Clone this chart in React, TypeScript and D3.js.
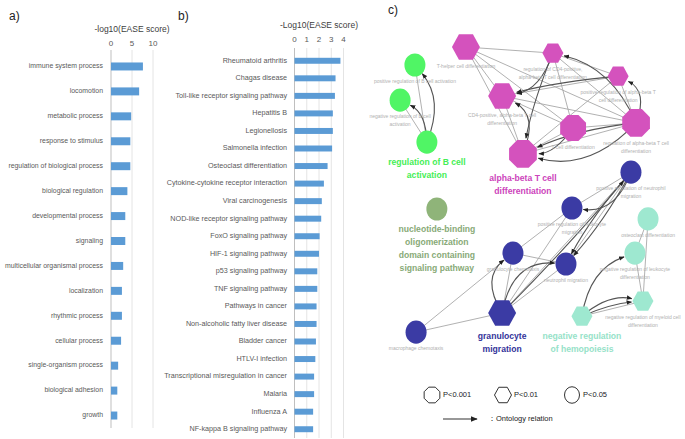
import React from "react";
import * as d3 from "d3";

const W = 685;
const H = 439;

// ---- panel a: GO biological process
const goTerms = [
  "immune system process", "locomotion", "metabolic process", "response to stimulus",
  "regulation of biological process", "biological regulation", "developmental process",
  "signaling", "multicellular organismal process", "localization", "rhythmic process",
  "cellular process", "single-organism process", "biological adhesion", "growth",
];
const goScores = [7.6, 6.7, 4.8, 4.6, 4.6, 3.9, 3.4, 3.4, 2.9, 2.6, 2.6, 2.4, 1.7, 1.5, 1.5];
const goTicks = [0, 5, 10];

// ---- panel b: KEGG pathways
const keggTerms = [
  "Rheumatoid arthritis", "Chagas disease", "Toll-like receptor signaling pathway", "Hepatitis B",
  "Legionellosis", "Salmonella infection", "Osteoclast differentiation",
  "Cytokine-cytokine receptor interaction", "Viral carcinogenesis", "NOD-like receptor signaling pathway",
  "FoxO signaling pathway", "HIF-1 signaling pathway", "p53 signaling pathway", "TNF signaling pathway",
  "Pathways in cancer", "Non-alcoholic fatty liver disease", "Bladder cancer", "HTLV-I infection",
  "Transcriptional misregulation in cancer", "Malaria", "Influenza A", "NF-kappa B signaling pathway",
];
const keggScores = [3.75, 3.35, 3.3, 3.13, 3.13, 3.07, 2.7, 2.4, 2.23, 2.18, 2.05, 2.0, 1.86, 1.86,
  1.8, 1.8, 1.75, 1.7, 1.6, 1.6, 1.52, 1.52];
const keggTicks = [0, 1, 2, 3, 4];

// ---- panel c: ClueGO network
const groupColor: Record<string, string> = {
  ab: "#d452bd", bcell: "#50f565", nod: "#8fb479", gran: "#3b3ba4", hemo: "#9ee8d0",
};
const groupText: Record<string, string> = {
  ab: "#cc44bb", bcell: "#44ee55", nod: "#88aa77", gran: "#33339a", hemo: "#96e2c8",
};

// significance: 3 = P<0.001, 2 = P<0.01, 1 = P<0.05
const nodeIds = ["th", "cd4reg", "posab", "cd4", "tcell", "abreg", "ab",
  "posB", "negB", "regB", "nod",
  "posNeut", "posLeuk", "granChemo", "neutMig", "granMig", "macro",
  "osteo", "negLeuk", "negMyel", "negHemo"];
const nodeGroup = ["ab", "ab", "ab", "ab", "ab", "ab", "ab",
  "bcell", "bcell", "bcell", "nod",
  "gran", "gran", "gran", "gran", "gran", "gran",
  "hemo", "hemo", "hemo", "hemo"];
const nodeSig = [2, 2, 2, 2, 3, 3, 3, 1, 1, 1, 1, 1, 1, 1, 1, 2, 1, 1, 1, 2, 2];
const nodeLabels = [
  ["T-helper cell differentiation"],
  ["regulation of CD4-positive,", "alpha-beta T cell differentiation"],
  ["positive regulation of alpha-beta T", "cell differentiation"],
  ["CD4-positive, alpha-beta T cell", "differentiation"],
  ["T cell differentiation"],
  ["regulation of alpha-beta T cell", "differentiation"],
  ["alpha-beta T cell", "differentiation"],
  ["positive regulation of B cell activation"],
  ["negative regulation of B cell", "activation"],
  ["regulation of B cell", "activation"],
  ["nucleotide-binding", "oligomerization", "domain containing", "signaling pathway"],
  ["positive regulation of neutrophil", "migration"],
  ["positive regulation of leukocyte", "migration"],
  ["granulocyte chemotaxis"],
  ["neutrophil migration"],
  ["granulocyte", "migration"],
  ["macrophage chemotaxis"],
  ["osteoclast differentiation"],
  ["negative regulation of leukocyte", "differentiation"],
  ["negative regulation of myeloid cell", "differentiation"],
  ["negative regulation", "of hemopoiesis"],
];
const leadingTerms = ["ab", "regB", "nod", "granMig", "negHemo"];
// layout coordinates (0-100 layout space)
const nodeX = [28.4, 58.9, 81.8, 41.1, 66.0, 88.1, 48.4, 10.5, 5.3, 14.7, 18.2,
  86.3, 65.6, 44.9, 63.5, 41.1, 10.9, 92.3, 87.7, 90.5, 69.1];
const nodeY = [2.2, 4.1, 11.3, 17.5, 27.5, 25.9, 35.6, 7.8, 18.8, 31.9, 52.8,
  41.3, 52.5, 66.6, 70.0, 85.3, 91.3, 55.9, 66.6, 81.6, 86.3];

const links: [string, string][] = [
  ["th", "cd4reg"], ["th", "cd4"], ["th", "tcell"], ["th", "abreg"], ["th", "ab"],
  ["cd4reg", "posab"], ["cd4reg", "tcell"], ["cd4reg", "abreg"], ["posab", "abreg"],
  ["cd4", "abreg"], ["cd4", "ab"], ["cd4", "tcell"], ["cd4", "posab"], ["tcell", "abreg"],
  ["tcell", "ab"], ["abreg", "ab"], ["posab", "ab"],
  ["regB", "posB"], ["regB", "negB"],
  ["granMig", "granChemo"], ["granMig", "neutMig"], ["granMig", "posLeuk"], ["granMig", "posNeut"],
  ["macro", "granMig"], ["macro", "granChemo"], ["granChemo", "neutMig"], ["granChemo", "posLeuk"],
  ["posLeuk", "posNeut"], ["neutMig", "posNeut"],
  ["osteo", "negLeuk"], ["osteo", "negMyel"], ["negLeuk", "negMyel"], ["negHemo", "negMyel"],
];
// ontology relations: source -> target, bend
const relations: [string, string, number][] = [
  ["cd4reg", "cd4", -0.3], ["posab", "cd4", 0.04], ["abreg", "posab", 0.45], ["abreg", "cd4reg", 0.25],
  ["abreg", "ab", -0.3], ["abreg", "ab", 0.08], ["tcell", "ab", -0.25], ["ab", "cd4", 0.45], ["cd4reg", "ab", 0.05],
  ["regB", "posB", 0.3], ["regB", "negB", 0.3],
  ["posNeut", "posLeuk", -0.4], ["posNeut", "neutMig", 0.06], ["posNeut", "neutMig", -0.06],
  ["granMig", "posNeut", 0.02], ["granMig", "granChemo", -0.45], ["granMig", "neutMig", -0.45],
  ["negHemo", "negLeuk", -0.3], ["negHemo", "negMyel", -0.25], ["negHemo", "negMyel", -0.08],
];

const legendSig = [3, 2, 1];
const legendText = ["P<0.001", "P<0.01", "P<0.05"];

const barFont = "'Liberation Sans', Arial, sans-serif";
const barBlue = "#5b9bd5";

function polygon(cx: number, cy: number, r: number, sides: number, offset: number, sy = 1) {
  const pts: string[] = [];
  for (let i = 0; i < sides; i++) {
    const a = offset + (i * 2 * Math.PI) / sides;
    pts.push(`${cx + r * Math.cos(a)},${cy + r * sy * Math.sin(a)}`);
  }
  return pts.join(" ");
}

function NodeShape({ cx, cy, r, sig, fill, stroke }: any) {
  if (sig === 3) return <polygon points={polygon(cx, cy, r, 8, Math.PI / 8)} fill={fill} stroke={stroke} />;
  if (sig === 2) return <polygon points={polygon(cx, cy, r, 6, 0, 1.05)} fill={fill} stroke={stroke} />;
  return <ellipse cx={cx} cy={cy} rx={r} ry={r * 1.1} fill={fill} stroke={stroke} />;
}

const nodeRadius = (id: string, sig: number) => {
  if (sig === 3) return id === "tcell" ? 14 : 15;
  if (sig === 2) return ["th", "cd4", "granMig"].includes(id) ? 14 : 10.5;
  return 10.5;
};

function BarPanel({ terms, scores, ticks, xRange, yRange, labelX, title, titleY, tickY, letter, letterX, fontSize, barPad }: any) {
  const x = d3.scaleLinear().domain([ticks[0], ticks[ticks.length - 1]]).range(xRange);
  const y = d3.scaleBand<string>().domain(terms).range(yRange).paddingInner(barPad).paddingOuter(barPad / 2);
  return (
    <g fontFamily={barFont}>
      <text x={letterX} y={20} fontSize={12} fill="#222">{letter}</text>
      <text x={(xRange[0] + xRange[1]) / 2} y={titleY} fontSize={8.5} textAnchor="middle" fill="#404040">{title}</text>
      {ticks.map((t: number, i: number) => (
        <g key={t}>
          <line x1={x(t)} x2={x(t)} y1={yRange[0] - 4} y2={yRange[1]} stroke={i === 0 ? "#bfbfbf" : "#e4e4e4"} strokeWidth={1} />
          <text x={x(t)} y={tickY} fontSize={8} textAnchor="middle" fill="#595959">{t}</text>
        </g>
      ))}
      {terms.map((t: string, i: number) => (
        <g key={t}>
          <rect x={x(0)} y={y(t)} width={x(scores[i]) - x(0)} height={y.bandwidth()} fill={barBlue} />
          <text x={labelX} y={(y(t) as number) + y.bandwidth() / 2} fontSize={fontSize} textAnchor="end" dominantBaseline="middle" fill="#595959">{t}</text>
        </g>
      ))}
    </g>
  );
}

export default function App() {
  const nx = d3.scaleLinear().domain([0, 100]).range([385, 670]);
  const ny = d3.scaleLinear().domain([0, 100]).range([40, 360]);
  const nodes = nodeIds.map((id, i) => ({
    id, group: nodeGroup[i], sig: nodeSig[i], label: nodeLabels[i],
    x: nx(nodeX[i]), y: ny(nodeY[i]), r: nodeRadius(id, nodeSig[i]),
    lead: leadingTerms.includes(id),
  }));
  const byId = new Map(nodes.map((n) => [n.id, n]));

  const relPath = (s: any, t: any, bend: number) => {
    const dx = t.x - s.x, dy = t.y - s.y;
    const len = Math.hypot(dx, dy);
    const cx = (s.x + t.x) / 2 - (dy / len) * bend * len;
    const cy = (s.y + t.y) / 2 + (dx / len) * bend * len;
    const ex = t.x - cx, ey = t.y - cy;
    const el = Math.hypot(ex, ey);
    const tx = t.x - (ex / el) * (t.r + 1), ty = t.y - (ey / el) * (t.r + 1);
    const p = d3.path();
    p.moveTo(s.x, s.y);
    p.quadraticCurveTo(cx, cy, tx, ty);
    return p.toString();
  };

  return (
    <svg width={W} height={H} style={{ position: "absolute", left: 0, top: 0, background: "#fff" }}>
      <defs>
        <marker id="arr" viewBox="0 0 10 10" refX={9} refY={5} markerWidth={5} markerHeight={5} orient="auto">
          <path d="M0,1 L10,5 L0,9 z" fill="#222" />
        </marker>
        <marker id="arrL" viewBox="0 0 10 10" refX={9} refY={5} markerWidth={6} markerHeight={6} orient="auto">
          <path d="M0,1 L10,5 L0,9 z" fill="#222" />
        </marker>
      </defs>

      <BarPanel terms={goTerms} scores={goScores} ticks={goTicks} xRange={[111, 153]} yRange={[54, 428]}
        labelX={103} title="-log10(EASE  score)" titleY={32} tickY={46} letter="a)" letterX={9}
        fontSize={6.9} barPad={0.68} />
      <BarPanel terms={keggTerms} scores={keggScores} ticks={keggTicks} xRange={[294.5, 343.5]} yRange={[52, 438]}
        labelX={287} title="-Log10(EASE score)" titleY={28} tickY={42} letter="b)" letterX={178}
        fontSize={7.2} barPad={0.66} />

      <g fontFamily="'Liberation Sans', Arial, sans-serif">
        <text x={388} y={14} fontSize={12} fill="#222" fontFamily={barFont}>c)</text>
        {links.map(([a, b], i) => {
          const s = byId.get(a)!, t = byId.get(b)!;
          return <line key={i} x1={s.x} y1={s.y} x2={t.x} y2={t.y} stroke="#a8a8a8" strokeWidth={0.9} />;
        })}
        {relations.map(([a, b, bend], i) => (
          <path key={i} d={relPath(byId.get(a), byId.get(b), bend)} fill="none" stroke="#555" strokeWidth={1.1} markerEnd="url(#arr)" />
        ))}
        {nodes.map((n) => (
          <NodeShape key={n.id} cx={n.x} cy={n.y} r={n.r} sig={n.sig} fill={groupColor[n.group]} stroke="none" />
        ))}
        {nodes.map((n) => {
          const fs = n.lead ? 8.6 : 5;
          const lh = n.lead ? 13 : 8;
          const y0 = n.y + n.r + (n.lead ? 10 : 6);
          return (
            <g key={n.id}>
              {n.label.map((l, k) => (
                <text key={k} x={n.x} y={y0 + k * lh} fontSize={fs} fontWeight={n.lead ? "bold" : "normal"}
                  textAnchor="middle" dominantBaseline="middle" fill={n.lead ? groupText[n.group] : "#b0b0b0"}>{l}</text>
              ))}
            </g>
          );
        })}

        {legendSig.map((s, i) => {
          const lx = [432, 503, 572][i];
          return (
            <g key={s}>
              <NodeShape cx={lx} cy={395} r={s === 1 ? 7.5 : 8.5} sig={s} fill="none" stroke="#333" />
              <text x={lx + 11} y={395} fontSize={7.5} dominantBaseline="middle" fill="#222" fontFamily={barFont}>{legendText[i]}</text>
            </g>
          );
        })}
        <line x1={443} x2={477} y1={419} y2={419} stroke="#333" strokeWidth={1.2} markerEnd="url(#arrL)" />
        <text x={488} y={419} fontSize={7.5} dominantBaseline="middle" fill="#222" fontFamily={barFont}>：Ontology relation</text>
      </g>
    </svg>
  );
}
